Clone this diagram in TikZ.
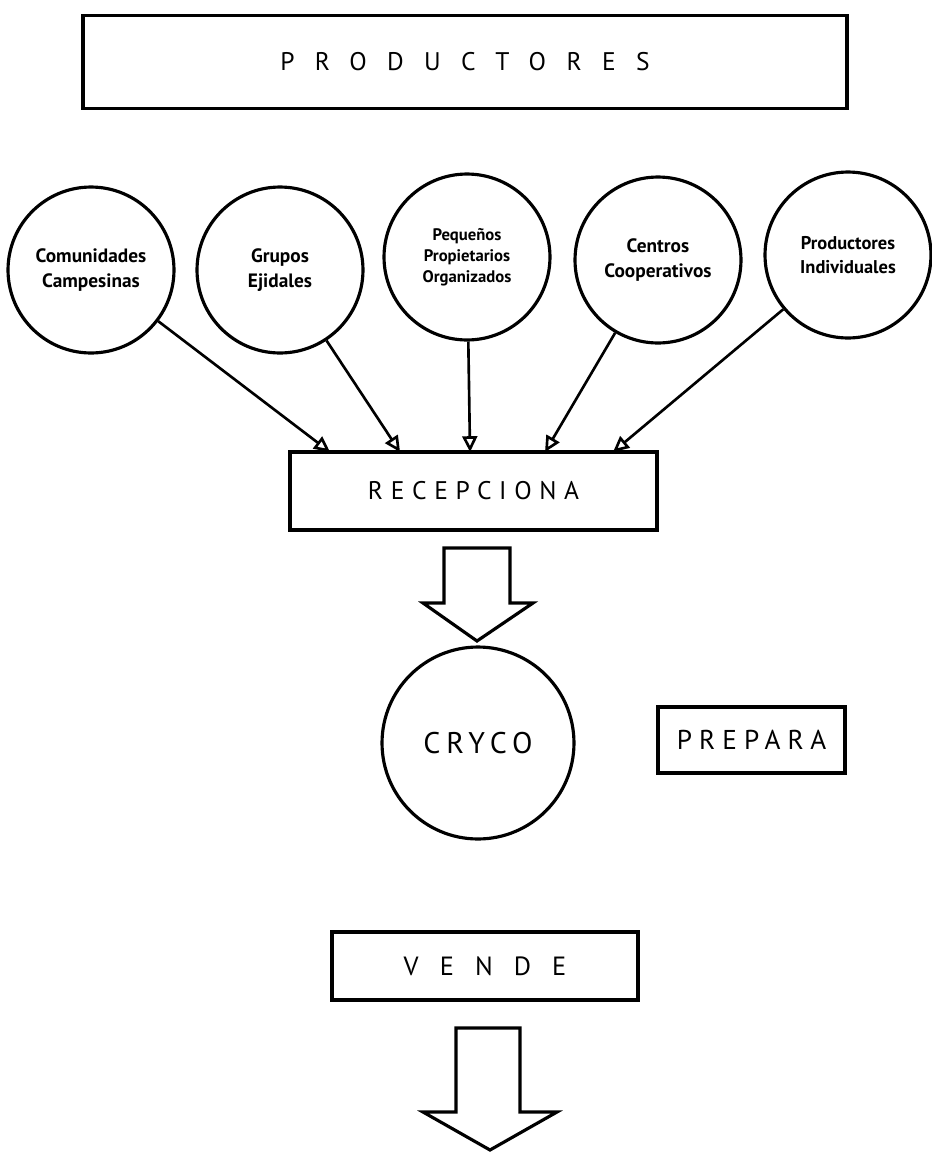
\documentclass[tikz,border=0pt]{standalone}
\usepackage{fontspec}
\setmainfont{PT Sans}
\usetikzlibrary{positioning,calc,arrows.meta}

\tikzset{
  box/.style={draw, line width=1.8pt, inner sep=0pt, outer sep=0pt},
  group/.style={draw, circle, line width=1.8pt, minimum size=3.32cm, inner sep=0pt, align=center,
    font=\bfseries\fontsize{11}{14}\selectfont},
  feed/.style={line width=1.5pt, -{Triangle[open, length=9pt, width=8.5pt]}},
  bigarrow/.style={line width=1.8pt, line join=miter},
}
\newcommand{\spaced}[2]{{\addfontfeature{LetterSpace=#1}#2}}

\begin{document}
\begin{tikzpicture}[x=0.02cm, y=-0.02cm]
    \useasboundingbox (0,0) rectangle (931,1154);

    % Top box
    \node[box, minimum width=15.28cm, minimum height=1.86cm] (prod) at (465,62)
        {\fontsize{14.5}{17}\selectfont\spaced{80}{PRODUCTORES}};

    % Producer groups
    \node[group] (comun) at (91,270) {Comunidades\\Campesinas};
    \node[group] (ejido) at (280,270) {Grupos\\Ejidales};
    \node[group, font=\bfseries\fontsize{9.5}{12}\selectfont] (pequeno) at (467,257)
        {Pequeños\\Propietarios\\Organizados};
    \node[group] (centro) at (658,260) {Centros\\Cooperativos};
    \node[group, font=\bfseries\fontsize{10.5}{14}\selectfont] (indiv) at (848,255)
        {Productores\\Individuales};

    % Reception
    \node[box, minimum width=7.34cm, minimum height=1.56cm] (recep) at (473.5,491)
        {\fontsize{14.5}{17}\selectfont\spaced{30}{RECEPCIONA}};
    \coordinate (in1) at ($(recep.north west)+(40,0)$);
    \coordinate (in2) at ($(recep.north west)+(110,0)$);
    \coordinate (in3) at ($(recep.north west)+(180,0)$);
    \coordinate (in4) at ($(recep.north west)+(255,0)$);
    \coordinate (in5) at ($(recep.north west)+(323,0)$);
    \foreach \src/\dst in {comun/in1, ejido/in2, pequeno/in3, centro/in4, indiv/in5}
        \draw[feed] (\src) -- (\dst);

    % Block arrow to CRYCO
    \draw[bigarrow] (444,548) -- (510,548) -- (510,603) -- (533,603) -- (477,641)
        -- (423,603) -- (444,603) -- cycle;

    % CRYCO and its task
    \node[draw, circle, line width=1.8pt, minimum size=3.84cm, inner sep=0pt] (cryco) at (478,743)
        {\fontsize{17}{20}\selectfont\spaced{20}{CRYCO}};
    \node[box, minimum width=3.74cm, minimum height=1.32cm] (prep) at (751.5,740)
        {\fontsize{15.5}{18}\selectfont\spaced{26}{PREPARA}};

    % Sale
    \node[box, minimum width=6.12cm, minimum height=1.36cm] (vende) at (485,966)
        {\fontsize{15}{18}\selectfont\spaced{80}{VENDE}};
    \draw[bigarrow] (456,1028) -- (520,1028) -- (520,1112) -- (557,1112) -- (490,1150)
        -- (423,1112) -- (456,1112) -- cycle;
\end{tikzpicture}
\end{document}
